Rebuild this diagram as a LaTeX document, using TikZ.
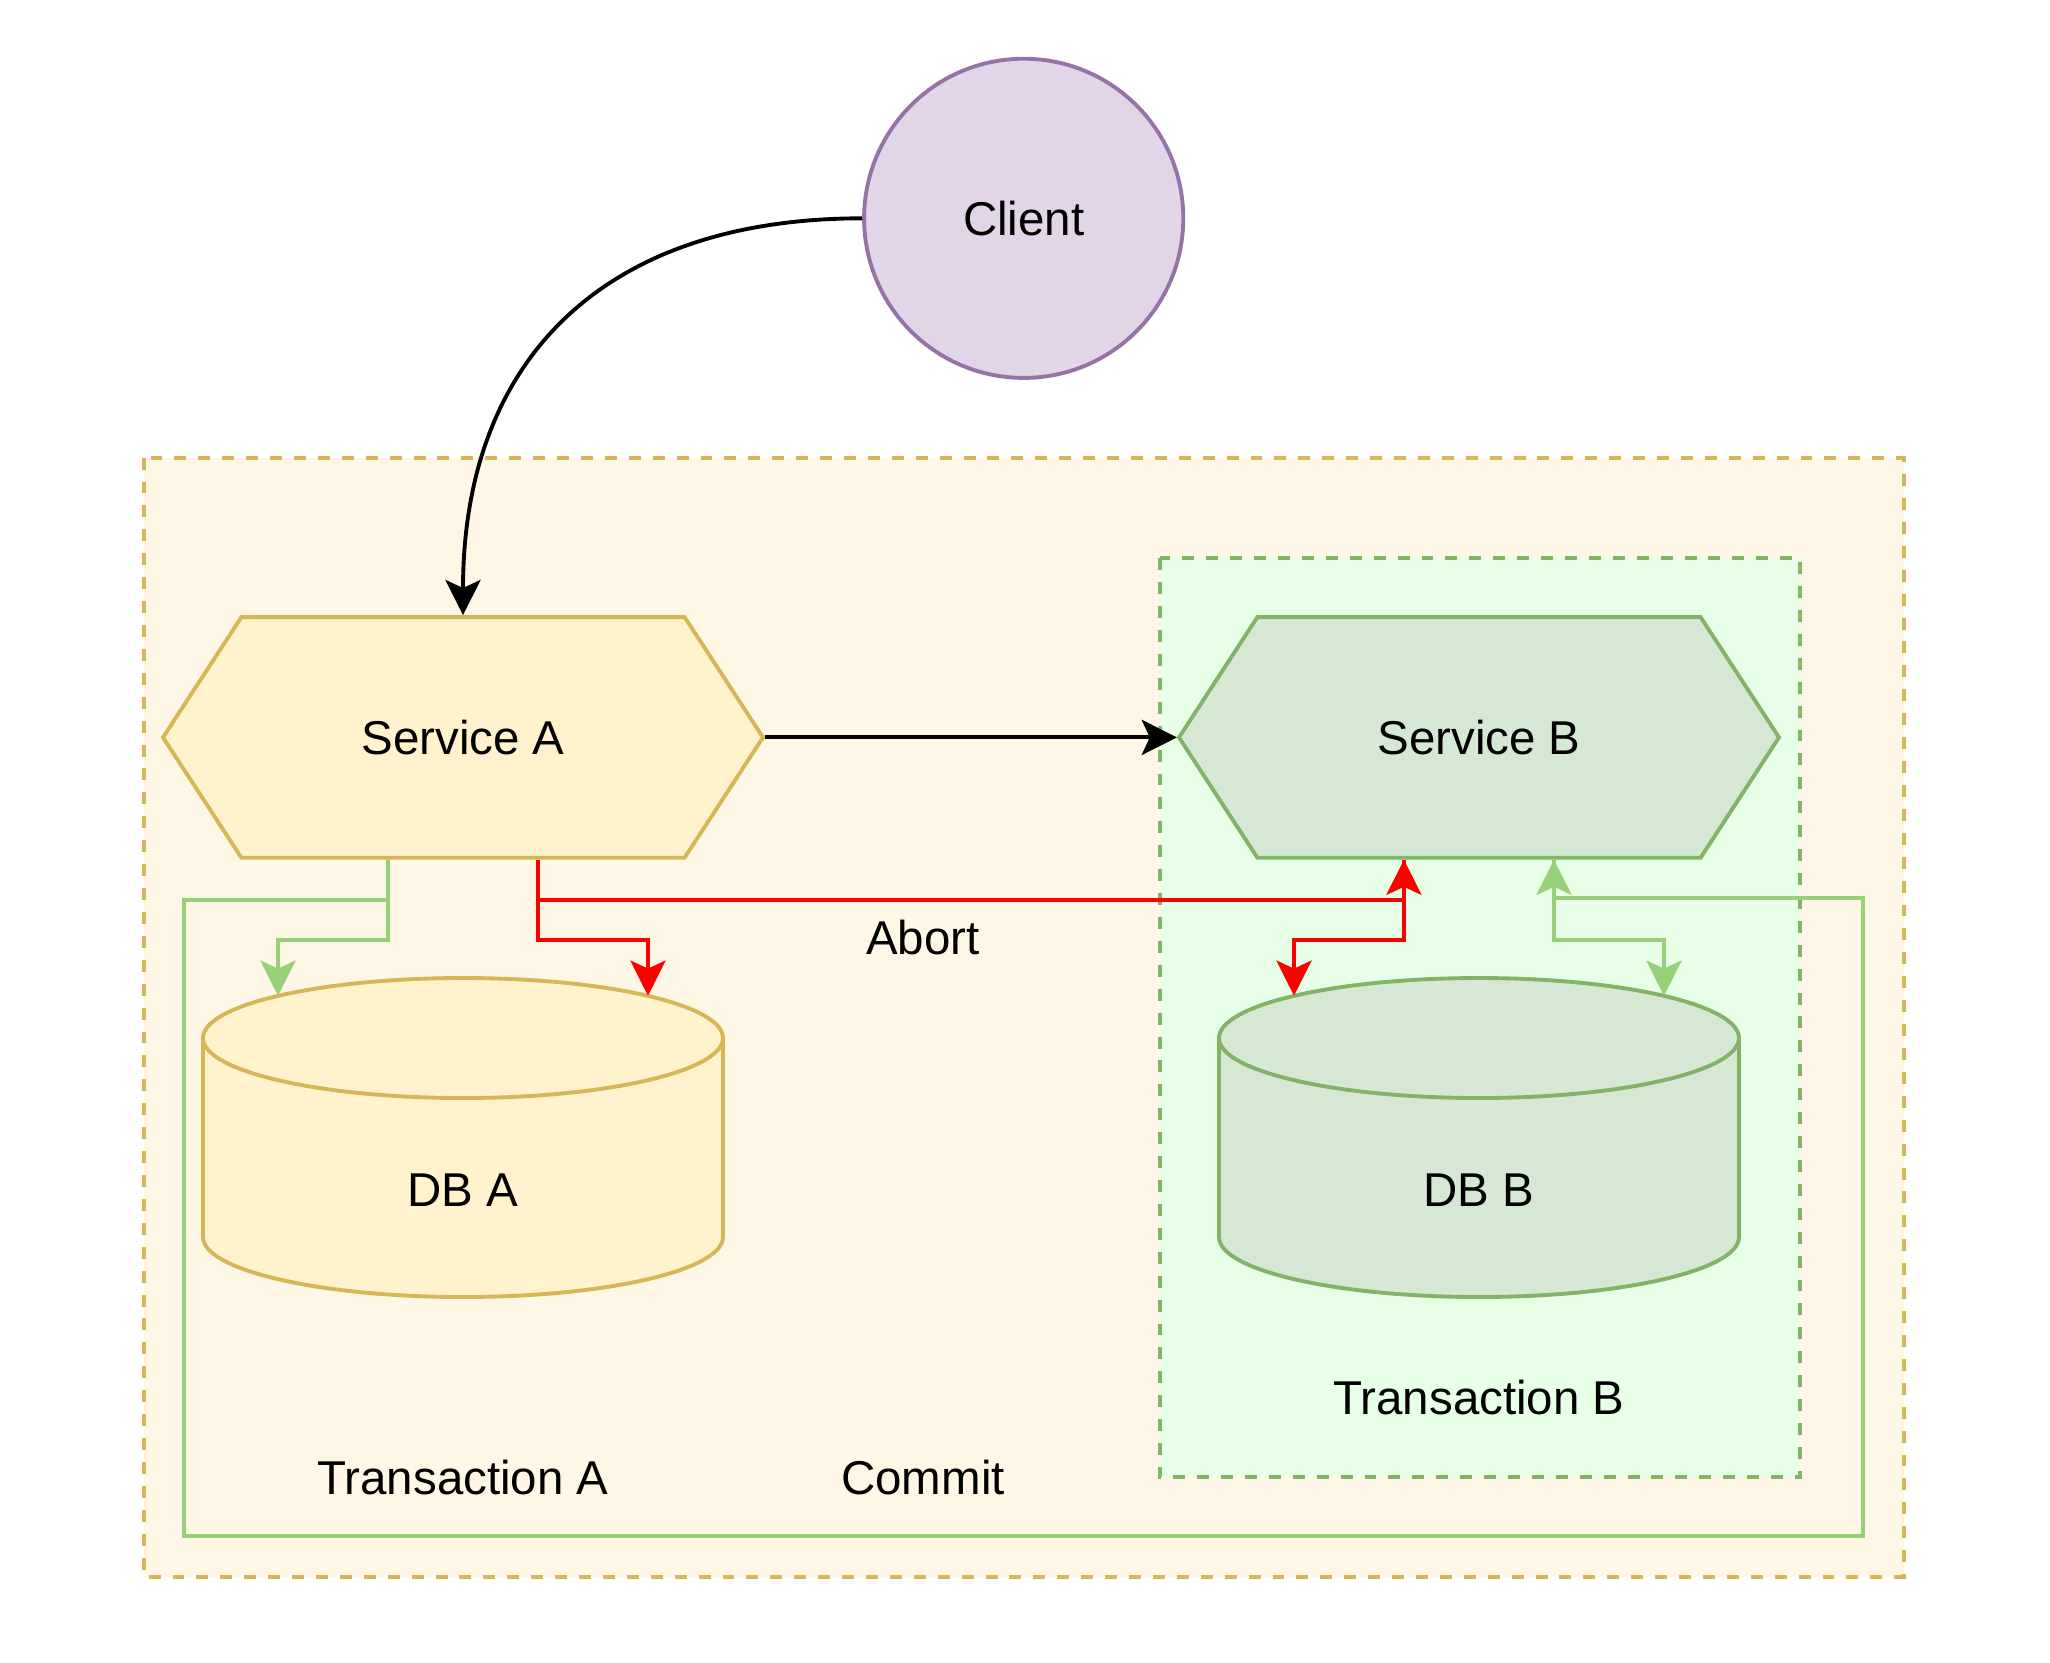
\documentclass[tikz,border=0pt]{standalone}
\usepackage{fontspec}
\setmainfont{Liberation Sans}
\usetikzlibrary{arrows.meta}

\definecolor{yelfill}{HTML}{FFF2CC}
\definecolor{yelline}{HTML}{D6B656}
\definecolor{grnfill}{HTML}{D5E8D4}
\definecolor{grnline}{HTML}{82B366}
\definecolor{purfill}{HTML}{E1D5E7}
\definecolor{purline}{HTML}{9673A6}
\definecolor{txafill}{HTML}{FFF7E6}
\definecolor{txbfill}{HTML}{E6FFE6}
\definecolor{commitline}{HTML}{97D077}

\begin{document}
\begin{tikzpicture}[x=0.01cm,y=-0.01cm,line width=1.1pt,
  >={Stealth[length=10pt,width=10pt,inset=2.3pt]},
  every node/.style={font=\fontsize{13.5}{16}\selectfont},
  txbox/.style={dash pattern=on 3.4pt off 3.4pt},
  commit/.style={draw=commitline},
  abort/.style={draw=red,-{Stealth[length=10pt,width=10pt,inset=2.3pt,fill=red]}}]
\fill[white] (0,0) rectangle (2050,1662);
\useasboundingbox (0,0) rectangle (2050,1662);
\filldraw[txbox,fill=txafill,draw=yelline] (143.8,457.6) rectangle (1903.6,1576.7);
\filldraw[txbox,fill=txbfill,draw=grnline] (1159.7,558.3) rectangle (1800.3,1477.4);
\filldraw[fill=yelfill,draw=yelline] (163,737.4)--(241.4,617.1)--(684.6,617.1)--(763,737.4)--(684.6,857.7)--(241.4,857.7)--cycle;
\filldraw[fill=grnfill,draw=grnline] (1179,737.4)--(1257.4,617.1)--(1700.6,617.1)--(1779,737.4)--(1700.6,857.7)--(1257.4,857.7)--cycle;
\filldraw[fill=yelfill,draw=yelline] (203,1038)--(203,1237) arc[start angle=180,end angle=0,x radius=260,y radius=60]--(723,1038) arc[start angle=0,end angle=-180,x radius=260,y radius=60]--cycle;
\draw[yelline] (203,1038) arc[start angle=180,end angle=0,x radius=260,y radius=60];
\filldraw[fill=grnfill,draw=grnline] (1219,1038)--(1219,1237) arc[start angle=180,end angle=0,x radius=260,y radius=60]--(1739,1038) arc[start angle=0,end angle=-180,x radius=260,y radius=60]--cycle;
\draw[grnline] (1219,1038) arc[start angle=180,end angle=0,x radius=260,y radius=60];
\node (client) at (1023.7,218.3) [circle,minimum size=3.19cm,fill=purfill,draw=purline] {Client};
\node (serviceA) at (463,737.4) [minimum width=6cm,minimum height=2.406cm] {Service A};
\node (serviceB) at (1479,737.4) [minimum width=6cm,minimum height=2.406cm] {Service B};
\node (dbA) at (463,1189.8) {DB A};
\node (dbB) at (1479,1189.8) {DB B};
\coordinate (dbAg) at (278,995.7);
\coordinate (dbAr) at (648,995.7);
\coordinate (dbBr) at (1294,995.7);
\coordinate (dbBg) at (1664,995.7);
\draw[commit,->] ([xshift=-0.75cm]serviceA.south) -- ++(0,40.5) -| (184.3,1536.2) -| (1863,898.2) -| ([xshift=0.75cm]serviceB.south);
\draw[commit,->] ([xshift=-0.75cm]serviceA.south) -- ++(0,80) -| (dbAg);
\draw[commit,->] ([xshift=0.75cm]serviceB.south) -- ++(0,80) -| (dbBg);
\draw[abort] ([xshift=0.75cm]serviceA.south) -- ++(0,40.5) -| ([xshift=-0.75cm]serviceB.south);
\draw[abort] ([xshift=0.75cm]serviceA.south) -- ++(0,80) -| (dbAr);
\draw[abort] ([xshift=-0.75cm]serviceB.south) -- ++(0,80) -| (dbBr);
\draw[->] (client.west) .. controls +(-257,0) and +(0,-257) .. (serviceA.north);
\draw[->] (serviceA.east) -- (serviceB.west);
\node (abortlbl) at (923,937.4) {Abort};
\node (commitlbl) at (923,1477.4) {Commit};
\node (txAlbl) at (463,1477.4) {Transaction A};
\node (txBlbl) at (1479,1397.6) {Transaction B};
\end{tikzpicture}
\end{document}
